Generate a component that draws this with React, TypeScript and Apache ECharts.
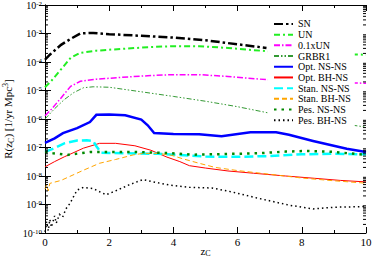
import React, { useEffect, useRef } from 'react';
import * as echarts from 'echarts';

const FONT = 'Liberation Serif';

// [z_C, R] pairs
const SN = [[0,1.2e-4],[0.15,1.8e-4],[0.5,4e-4],[0.8,6.5e-4],[1.1,1.0e-3],[1.5,1.05e-3],[2,9.5e-4],[3,8.3e-4],[4,7.2e-4],[5,5.8e-4],[5.7,4.6e-4],[6.3,3.8e-4],[6.9,3.1e-4]];
const UN = [[0,1.3e-5],[0.2,2.2e-5],[0.5,5.5e-5],[0.8,1.4e-4],[1.1,2.1e-4],[1.6,2.5e-4],[2.4,2.9e-4],[3.2,3.3e-4],[4,3.6e-4],[4.8,3.6e-4],[5.7,3.1e-4],[6.9,2.4e-4],[8,2.1e-4],[9,1.9e-4],[10,1.8e-4]];
const UN01 = [[0,1.3e-6],[0.2,2.2e-6],[0.5,5.5e-6],[0.8,1.4e-5],[1.1,2.1e-5],[1.6,2.5e-5],[2.4,2.9e-5],[3.2,3.3e-5],[4,3.6e-5],[4.8,3.6e-5],[5.7,3.1e-5],[6.9,2.4e-5],[8,2.1e-5],[9,1.9e-5],[10,1.8e-5]];
const GRBR1 = [[0,1e-6],[0.3,2.3e-6],[0.6,4.8e-6],[0.9,8.5e-6],[1.2,1.25e-5],[1.5,1.35e-5],[2,1.3e-5],[3,9e-6],[4,6.2e-6],[5,4.2e-6],[6,2.7e-6],[7,1.6e-6],[8,1.1e-6],[9,7.5e-7],[10,5.2e-7]];
const OPT_NSNS = [[0,1.45e-7],[0.3,2.1e-7],[0.56,3.2e-7],[1.0,4.8e-7],[1.4,7.8e-7],[1.6,1.4e-6],[2,1.45e-6],[2.5,1.35e-6],[3,9.5e-7],[3.2,6e-7],[3.4,3.2e-7],[4,3e-7],[4.8,2.9e-7],[5.5,2.5e-7],[6.4,3.4e-7],[7.2,3.4e-7],[7.6,2.8e-7],[8.35,1.7e-7],[9.4,9e-8],[10,7e-8]];
const OPT_BHNS = [[0,2.1e-8],[0.3,3.2e-8],[0.6,4.7e-8],[1.2,9.5e-8],[1.7,1.4e-7],[2.2,1.4e-7],[2.8,1.15e-7],[3.3,8e-8],[3.8,4.6e-8],[4.2,3.2e-8],[4.5,2.3e-8],[5,1.9e-8],[5.7,1.5e-8],[6.5,1.25e-8],[7.5,1e-8],[8.4,8.3e-9],[9.2,7e-9],[10,6.2e-9]];
const STAN_NSNS = [[0,7e-8],[0.3,9.5e-8],[0.6,1.4e-7],[1.0,1.75e-7],[1.3,1.8e-7],[1.5,1.7e-7],[1.6,1.1e-7],[1.75,6.5e-8],[2.5,6.3e-8],[3.5,6e-8],[4.2,5.5e-8],[5,4.8e-8],[6,4.7e-8],[7,5e-8],[8,5.8e-8],[9,6e-8],[10,5.8e-8]];
const STAN_BHNS = [[0,3.5e-9],[0.05,5e-9],[0.1,3e-9],[0.15,5.5e-9],[0.5,7e-9],[1.2,1.6e-8],[1.7,2.8e-8],[2.2,3.8e-8],[2.75,5.5e-8],[3.05,6.2e-8],[3.5,6.2e-8],[3.9,5.5e-8],[4.3,4e-8],[4.8,2.8e-8],[5.3,2e-8],[6,1.55e-8],[7,1.15e-8],[8,8.5e-9],[9,6.8e-9],[10,5.6e-9]];
const PES_NSNS = [[0,6.9e-8],[0.25,6.3e-8],[0.7,5.5e-8],[1.1,6.3e-8],[1.4,6.9e-8],[2,6.9e-8],[3,6.9e-8],[3.9,6.3e-8],[4.6,5.6e-8],[5.6,5.9e-8],[6.7,6.3e-8],[7.5,7.2e-8],[8.2,7.6e-8],[9,7e-8],[10,5.5e-8]];
const PES_BHNS = [[0,1.1e-10],[0.05,2.5e-10],[0.1,1.2e-10],[0.15,3e-10],[0.2,1.6e-10],[0.3,4e-10],[0.35,2.2e-10],[0.45,4.5e-10],[0.55,3.6e-10],[0.65,7e-10],[0.78,1.1e-9],[0.9,2e-9],[1.0,3.2e-9],[1.2,4e-9],[1.5,3.6e-9],[1.9,2.2e-9],[2.2,3e-9],[2.6,4.8e-9],[3.05,7.5e-9],[3.5,5.8e-9],[3.9,4.8e-9],[4.5,4e-9],[5.2,3.8e-9],[5.8,2.8e-9],[6.6,1.7e-9],[7.6,9.5e-10],[8.35,7e-10],[9,8e-10],[10,8.5e-10]];

const NAMES = ['SN','UN','0.1xUN','GRBR1','Opt. NS-NS','Opt. BH-NS','Stan. NS-NS','Stan. BH-NS','Pes. NS-NS','Pes. BH-NS'];
const X_MIN = 0, X_MAX = 10, X_STEP = 2;
const Y_MIN_EXP = -10, Y_MAX_EXP = -2;

function line(name: string, data: number[][], color: string, width: number, type: any) {
  return {
    name, type: 'line', data, symbol: 'none', showSymbol: false, silent: true,
    xAxisIndex: 0, yAxisIndex: 0, z: 2,
    lineStyle: { color, width, type, cap: 'butt', join: 'miter' },
    itemStyle: { color },
    emphasis: { disabled: true },
  };
}

export default function App() {
  const ref = useRef<HTMLDivElement>(null);
  useEffect(() => {
    document.body.style.margin = '0';
    const chart = echarts.init(ref.current!, null, { renderer: 'svg' });

    const minorY: number[][] = [];
    for (let e = Y_MIN_EXP; e < Y_MAX_EXP; e++) {
      for (let k = 2; k <= 9; k++) minorY.push([0, k * Math.pow(10, e)]);
    }

    const tickCommon = {
      axisLine: { show: true, lineStyle: { color: '#000', width: 1 } },
      splitLine: { show: false },
    };

    const option: any = {
      animation: false,
      backgroundColor: '#fff',
      textStyle: { fontFamily: FONT },
      grid: { left: 45, right: 8, top: 5, bottom: 24, containLabel: false, outerBoundsMode: 'none' },
      legend: {
        data: NAMES,
        orient: 'vertical',
        left: 268,
        top: 14.6,
        padding: [4, 4, 4, 5],
        itemGap: 0,
        itemWidth: 19,
        itemHeight: 10.7,
        backgroundColor: '#fff',
        selectedMode: false,
        itemStyle: { color: 'transparent', borderColor: 'transparent', borderWidth: 0, opacity: 0 },
        textStyle: { fontFamily: FONT, fontSize: 10, color: '#000', lineHeight: 10.7 },
      },
      xAxis: [
        {
          type: 'value', min: X_MIN, max: X_MAX, interval: X_STEP, position: 'bottom',
          ...tickCommon,
          axisTick: { show: true, inside: true, length: 6, lineStyle: { color: '#000' } },
          minorTick: { show: true, splitNumber: 2, length: 3, lineStyle: { color: '#000' } },
          axisLabel: { fontFamily: FONT, fontSize: 11, color: '#000', margin: 3 },
          name: 'z{sub|C}', nameLocation: 'middle', nameGap: 12, nameMoveOverlap: false,
          nameTextStyle: {
            fontFamily: FONT, fontSize: 11, color: '#000', lineHeight: 12,
            rich: { sub: { fontFamily: FONT, fontSize: 8, lineHeight: 7, verticalAlign: 'bottom', color: '#000' } },
          },
        },
        {
          type: 'value', min: X_MIN, max: X_MAX, interval: X_STEP, position: 'top',
          ...tickCommon,
          axisTick: { show: true, inside: true, length: 6, lineStyle: { color: '#000' } },
          minorTick: { show: true, splitNumber: 2, length: 3, lineStyle: { color: '#000' } },
          axisLabel: { show: false },
        },
      ],
      yAxis: [
        {
          type: 'log', logBase: 10, min: Math.pow(10, Y_MIN_EXP), max: Math.pow(10, Y_MAX_EXP), splitNumber: 8,
          position: 'left',
          ...tickCommon,
          axisTick: { show: true, inside: true, length: 6, lineStyle: { color: '#000' } },
          axisLabel: {
            margin: 3,
            formatter: (v: number) => '{n|10}{s|' + Math.round(Math.log10(v)) + '}',
            rich: {
              n: { fontFamily: FONT, fontSize: 10, lineHeight: 10, color: '#000', verticalAlign: 'bottom' },
              s: { fontFamily: FONT, fontSize: 7, lineHeight: 6, color: '#000', verticalAlign: 'top' },
            },
          },
          name: 'R(z{sub|C}) [1/yr Mpc{sup|3}]', nameLocation: 'middle', nameGap: 30, nameRotate: 90, nameMoveOverlap: false,
          nameTextStyle: {
            fontFamily: FONT, fontSize: 11, color: '#000', lineHeight: 14,
            rich: {
              sub: { fontFamily: FONT, fontSize: 8, lineHeight: 8, verticalAlign: 'bottom', color: '#000' },
              sup: { fontFamily: FONT, fontSize: 8, lineHeight: 8, verticalAlign: 'top', color: '#000' },
            },
          },
        },
        {
          type: 'log', logBase: 10, min: Math.pow(10, Y_MIN_EXP), max: Math.pow(10, Y_MAX_EXP), splitNumber: 8,
          position: 'right',
          ...tickCommon,
          axisTick: { show: true, inside: true, length: 6, lineStyle: { color: '#000' } },
          axisLabel: { show: false },
        },
      ],
      series: [
        line('SN', SN, '#000000', 2.5, [9, 3, 2.5, 3]),
        line('UN', UN, '#22ee22', 2, [6, 3, 2, 3]),
        line('0.1xUN', UN01, '#ff00ff', 1.5, [6, 2, 1.5, 2]),
        line('GRBR1', GRBR1, '#339933', 1, [5, 2, 1.5, 2, 1.5, 2]),
        line('Opt. NS-NS', OPT_NSNS, '#0000ff', 2.5, 'solid'),
        line('Opt. BH-NS', OPT_BHNS, '#ff0000', 1, 'solid'),
        line('Stan. NS-NS', STAN_NSNS, '#00ffff', 2.5, [9, 4]),
        line('Stan. BH-NS', STAN_BHNS, '#ffa500', 1, [5, 3]),
        line('Pes. NS-NS', PES_NSNS, '#008800', 2.5, [2.5, 5]),
        line('Pes. BH-NS', PES_BHNS, '#000000', 1.5, [1.5, 3]),
        {
          type: 'custom', name: 'minorY', xAxisIndex: 0, yAxisIndex: 0, silent: true, clip: false, z: 3,
          data: minorY,
          encode: { x: 0, y: 1 },
          renderItem: (params: any, api: any) => {
            const v = api.value(1);
            const p0 = api.coord([X_MIN, v]);
            const p1 = api.coord([X_MAX, v]);
            return {
              type: 'group',
              children: [
                { type: 'line', shape: { x1: p0[0], y1: p0[1], x2: p0[0] + 3, y2: p0[1] }, style: { stroke: '#000', lineWidth: 1 } },
                { type: 'line', shape: { x1: p1[0] - 3, y1: p1[1], x2: p1[0], y2: p1[1] }, style: { stroke: '#000', lineWidth: 1 } },
              ],
            };
          },
        },
      ],
    };
    chart.setOption(option);
    return () => chart.dispose();
  }, []);
  return <div ref={ref} style={{ width: 374, height: 257 }} />;
}
